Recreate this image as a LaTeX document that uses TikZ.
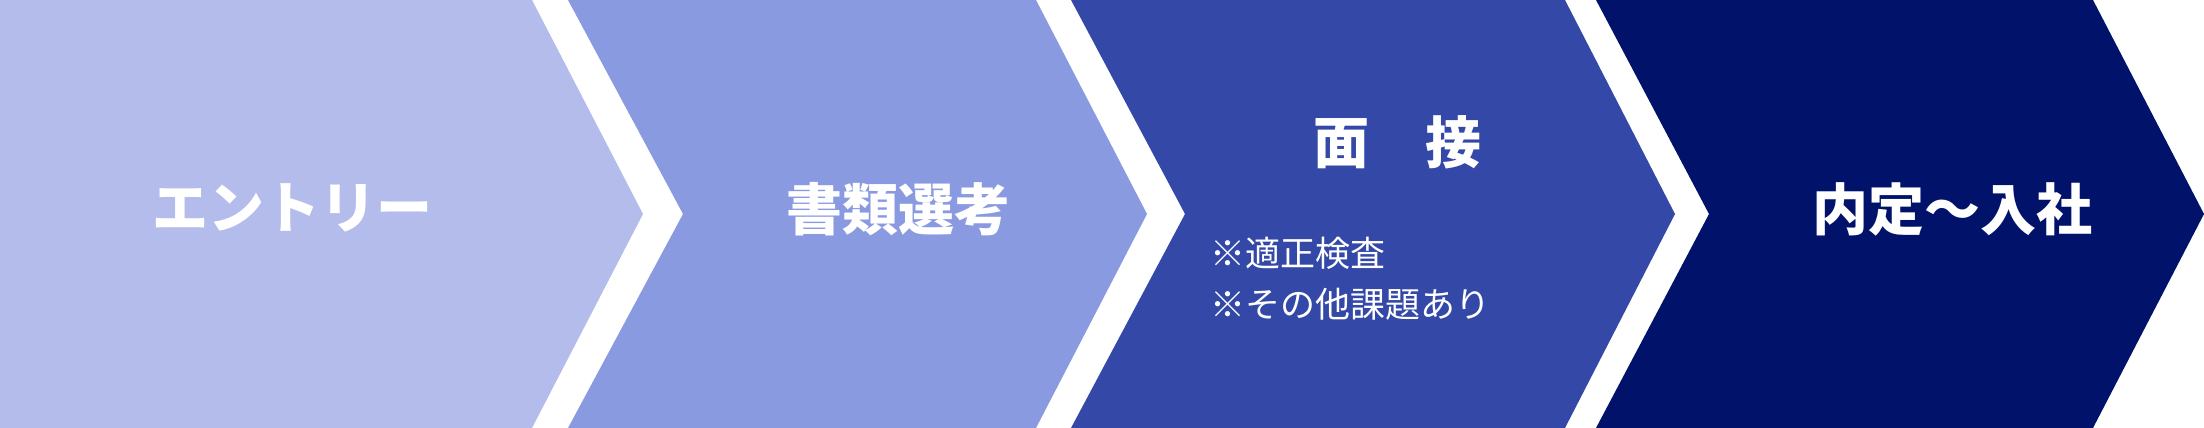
\documentclass[tikz,border=0pt]{standalone}
\usepackage{fontspec}
\newfontfamily\jp{Noto Sans CJK JP}
\definecolor{cA}{RGB}{179,188,234}
\definecolor{cB}{RGB}{138,154,224}
\definecolor{cC}{RGB}{52,72,168}
\definecolor{cD}{RGB}{0,18,106}
\tikzset{
  title/.style={text=white, inner sep=0pt, font=\jp\bfseries\fontsize{56}{60}\selectfont},
  note/.style={text=white, inner sep=0pt, anchor=west, font=\jp\fontsize{35}{40}\selectfont}
}
\begin{document}
\begin{tikzpicture}[x=1pt,y=-1pt]
\useasboundingbox (0,0) rectangle (2204,428);
\fill[cA] (0,0) -- (532,0) -- (643,214) -- (532,428) -- (0,428) -- cycle;
\fill[cB] (568,0) -- (1036,0) -- (1147,214) -- (1036,428) -- (568,428) -- (683,214) -- cycle;
\fill[cC] (1071,0) -- (1565,0) -- (1675,214) -- (1565,428) -- (1071,428) -- (1185,214) -- cycle;
\fill[cD] (1596,0) -- (2093,0) -- (2204,214) -- (2093,428) -- (1596,428) -- (1709,214) -- cycle;
\node[title] (t1) at (292,208) {エントリー};
\node[title] (t2) at (898,209) {書類選考};
\node[title] (t3) at (1397,142) {面　接};
\node[title] (t4) at (1952,209) {内定～入社};
\node[note] (n1) at (1210,253) {※適正検査};
\node[note] (n2) at (1210,304) {※その他課題あり};
\end{tikzpicture}
\end{document}
